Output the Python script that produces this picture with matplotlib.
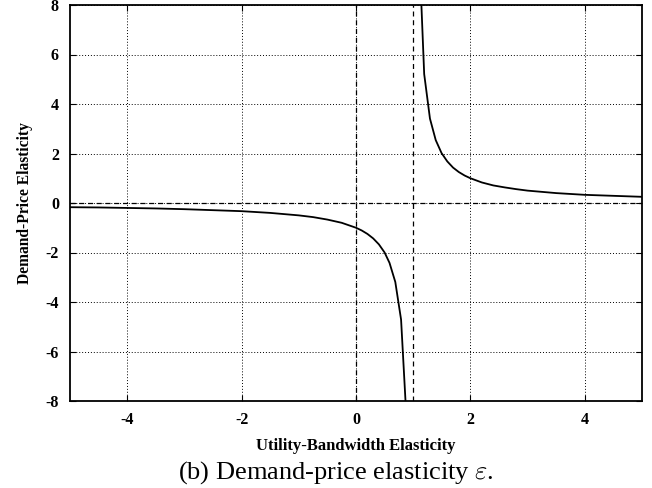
import matplotlib
matplotlib.use("Agg")
import matplotlib.pyplot as plt

# Demand-price elasticity versus utility-bandwidth elasticity (two branches
# separated by the pole at 1)
left_x = [-5.0, -4.5, -4.0, -3.5, -3.0, -2.5, -2.0, -1.5, -1.0, -0.75, -0.5,
          -0.25, 0.0, 0.1, 0.2, 0.3, 0.4, 0.5, 0.586, 0.687, 0.788, 0.889]
left_y = [-0.17, -0.18, -0.2, -0.22, -0.25, -0.29, -0.33, -0.4, -0.5, -0.57,
          -0.67, -0.8, -1.0, -1.11, -1.25, -1.43, -1.67, -2.0, -2.42, -3.19,
          -4.71, -9.0]
right_x = [1.091, 1.192, 1.293, 1.394, 1.495, 1.596, 1.697, 1.798, 1.899, 2.0,
           2.2, 2.4, 2.6, 2.8, 3.0, 3.5, 4.0, 4.5, 5.0]
right_y = [11.0, 5.21, 3.41, 2.54, 2.02, 1.68, 1.43, 1.25, 1.11, 1.0,
           0.83, 0.71, 0.63, 0.56, 0.5, 0.4, 0.33, 0.29, 0.25]

x_ticks = [-4, -2, 0, 2, 4]
y_ticks = [-8, -6, -4, -2, 0, 2, 4, 6, 8]
ref_vlines = [0, 1]
ref_hline = 0

plt.rcParams['font.family'] = ['Liberation Serif', 'DejaVu Serif']
plt.rcParams['mathtext.fontset'] = 'cm'

fig = plt.figure(figsize=(6.52, 4.88), dpi=100)
ax = fig.add_axes([70 / 652, 1 - 401 / 488, 572 / 652, 396 / 488])

ax.set_xlim(-5, 5)
ax.set_ylim(-8, 8)
ax.set_xticks(x_ticks)
ax.set_yticks(y_ticks)
ax.set_xticklabels([str(t) for t in x_ticks], fontweight='bold', fontsize=11.5)
ax.set_yticklabels([str(t) for t in y_ticks], fontweight='bold', fontsize=11.5)
ax.tick_params(direction='in', length=4, width=0.8, top=True, right=True,
               pad=8)

ax.grid(True, linestyle=(0, (1, 2)), color='black', linewidth=0.7)

for xv in ref_vlines:
    ax.axvline(xv, color='black', linestyle=(0, (4, 3)), linewidth=0.9)
ax.axhline(ref_hline, color='black', linestyle=(0, (4, 3)), linewidth=0.9)

ax.plot(left_x, left_y, color='black', linewidth=1.3, clip_on=True)
ax.plot(right_x, right_y, color='black', linewidth=1.3, clip_on=True)

for s in ax.spines.values():
    s.set_linewidth(1.3)

ax.set_xlabel('Utility-Bandwidth Elasticity', fontweight='bold', fontsize=12,
              labelpad=7)
ax.set_ylabel('Demand-Price Elasticity', fontweight='bold', fontsize=11.2,
              labelpad=9)

fig.text(336 / 652, 1 - 473 / 488,
         r'(b) Demand-price elasticity $\varepsilon$.',
         ha='center', va='center', fontsize=19)

fig.savefig('out.png', dpi=100)
